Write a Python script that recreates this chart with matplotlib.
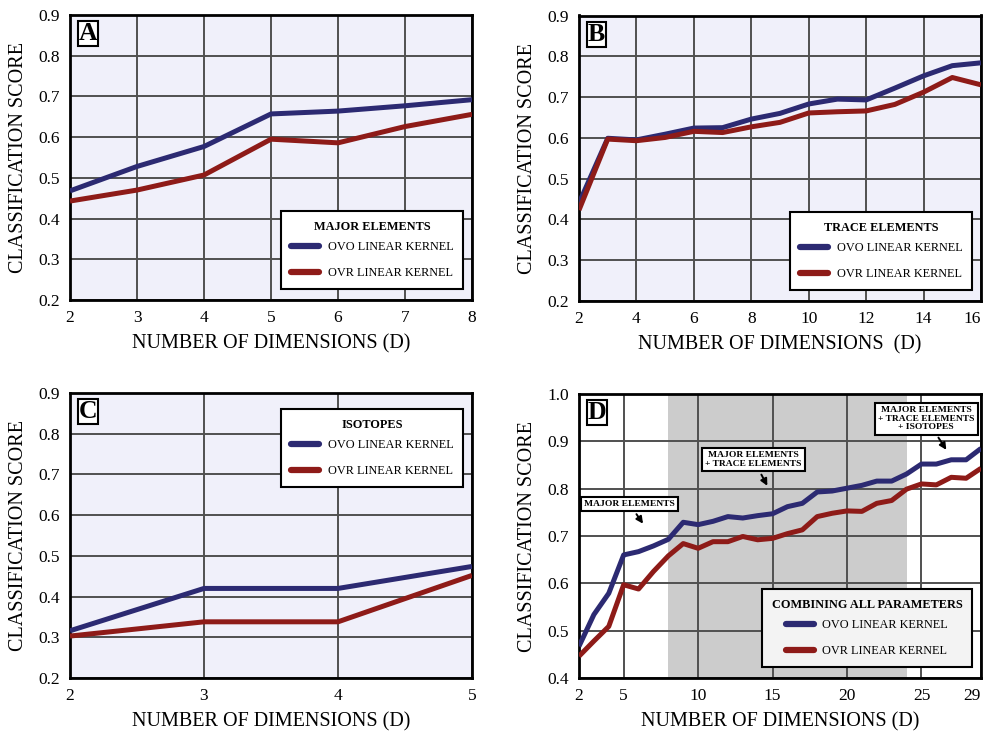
import matplotlib
matplotlib.use("Agg")
import matplotlib.pyplot as plt

plt.rcParams['font.family'] = ['Liberation Serif', 'DejaVu Serif']

# Panel A: major elements
dims_a = [2, 3, 4, 5, 6, 7, 8]
ovo_a = [0.468, 0.528, 0.577, 0.657, 0.664, 0.677, 0.692]
ovr_a = [0.443, 0.470, 0.507, 0.595, 0.586, 0.626, 0.656]

# Panel B: trace elements
dims_b = list(range(2, 17))
ovo_b = [0.440, 0.599, 0.595, 0.609, 0.624, 0.625, 0.646, 0.660, 0.683,
         0.695, 0.693, 0.722, 0.752, 0.777, 0.784]
ovr_b = [0.423, 0.597, 0.593, 0.601, 0.616, 0.613, 0.627, 0.638, 0.661,
         0.664, 0.666, 0.682, 0.712, 0.748, 0.730]

# Panel C: isotopes
dims_c = [2, 3, 4, 5]
ovo_c = [0.316, 0.420, 0.420, 0.474]
ovr_c = [0.303, 0.338, 0.338, 0.452]

# Panel D: all parameters combined
dims_d = list(range(2, 30))
ovo_d = [0.467, 0.534, 0.579, 0.660, 0.667, 0.679, 0.693, 0.729, 0.724,
         0.731, 0.741, 0.738, 0.743, 0.747, 0.762, 0.769, 0.793, 0.795,
         0.801, 0.807, 0.816, 0.816, 0.831, 0.852, 0.852, 0.861, 0.861,
         0.885]
ovr_d = [0.446, 0.478, 0.509, 0.597, 0.588, 0.625, 0.658, 0.684, 0.674,
         0.688, 0.688, 0.699, 0.692, 0.695, 0.705, 0.713, 0.741, 0.748,
         0.753, 0.752, 0.769, 0.775, 0.799, 0.810, 0.808, 0.824, 0.822,
         0.843]

series_labels = ["OVO LINEAR KERNEL", "OVR LINEAR KERNEL"]
legend_titles = ["MAJOR ELEMENTS", "TRACE ELEMENTS", "ISOTOPES",
                 "COMBINING ALL PARAMETERS"]
panel_letters = ["A", "B", "C", "D"]

BLUE = "#2c2a72"
RED = "#8e1b18"
LAVENDER = "#f0f0fa"
GRID = "#505050"

W, H = 983, 731
fig = plt.figure(figsize=(W / 100, H / 100), dpi=100)


def px_axes(l, t, r, b):
    return fig.add_axes([l / W, 1 - b / H, (r - l) / W, (b - t) / H])


axA = px_axes(70, 15, 472, 300)
axB = px_axes(579, 15.5, 981, 301)
axC = px_axes(70, 393, 472, 678)
axD = px_axes(579, 394, 981, 678)


def style(ax, xlim, ylim, xticks, yticks, face, xlabel):
    ax.set_facecolor(face)
    ax.set_xlim(*xlim)
    ax.set_ylim(*ylim)
    ax.set_xticks(xticks)
    ax.set_yticks(yticks)
    ax.set_yticklabels([f"{v:.1f}" for v in yticks])
    ax.grid(True, color=GRID, lw=1.4, zorder=1)
    ax.set_axisbelow(True)
    for s in ax.spines.values():
        s.set_linewidth(2.0)
        s.set_color("black")
    ax.tick_params(length=0, labelsize=12.5, pad=7)
    ax.set_xlabel(xlabel, fontsize=14.5, labelpad=6)
    ax.set_ylabel("CLASSIFICATION SCORE", fontsize=14.5, labelpad=8)


def edge_tick(ax):
    # keep the last x tick label inside the figure
    lab = ax.get_xticklabels()[-1]
    lab.set_ha("right")


def letter(ax, s):
    ax.text(0.022, 0.975, s, transform=ax.transAxes, fontsize=18.5,
            fontweight="bold", ha="left", va="top", zorder=6,
            bbox=dict(boxstyle="square,pad=0.04", fc="white", ec="black",
                      lw=1.5))


def draw(ax, x, a, b):
    ax.plot(x, a, color=BLUE, lw=3.6, solid_capstyle="butt", zorder=3,
            label=series_labels[0])
    ax.plot(x, b, color=RED, lw=3.6, solid_capstyle="butt", zorder=3,
            label=series_labels[1])


def legend(ax, title, loc, anchor, face="white"):
    lg = ax.legend(loc=loc, bbox_to_anchor=anchor, title=title,
                   fontsize=8.8,
                   title_fontproperties=dict(size=8.8, weight="bold"),
                   frameon=True, fancybox=False, borderpad=0.8,
                   labelspacing=1.15, handlelength=2.3, handletextpad=0.7,
                   borderaxespad=0)
    fr = lg.get_frame()
    fr.set_edgecolor("black")
    fr.set_linewidth(1.5)
    fr.set_facecolor(face)
    fr.set_alpha(1)
    lg._legend_box.sep = 6
    for h in lg.get_lines():
        h.set_linewidth(4.5)
        h.set_solid_capstyle("round")
    lg.set_zorder(7)
    return lg


# A
style(axA, (2, 8), (0.2, 0.9), dims_a, [0.2, 0.3, 0.4, 0.5, 0.6, 0.7, 0.8, 0.9],
      LAVENDER, "NUMBER OF DIMENSIONS (D)")
draw(axA, dims_a, ovo_a, ovr_a)
legend(axA, legend_titles[0], "lower right", (0.978, 0.039))
letter(axA, panel_letters[0])

# B
style(axB, (2, 16), (0.2, 0.9), list(range(2, 17, 2)),
      [0.2, 0.3, 0.4, 0.5, 0.6, 0.7, 0.8, 0.9], LAVENDER,
      "NUMBER OF DIMENSIONS  (D)")
draw(axB, dims_b, ovo_b, ovr_b)
legend(axB, legend_titles[1], "lower right", (0.978, 0.039))
letter(axB, panel_letters[1])
edge_tick(axB)

# C
style(axC, (2, 5), (0.2, 0.9), dims_c, [0.2, 0.3, 0.4, 0.5, 0.6, 0.7, 0.8, 0.9],
      LAVENDER, "NUMBER OF DIMENSIONS (D)")
draw(axC, dims_c, ovo_c, ovr_c)
legend(axC, legend_titles[2], "upper right", (0.978, 0.944))
letter(axC, panel_letters[2])

# D
style(axD, (2, 29), (0.4, 1.0), [2, 5, 10, 15, 20, 25, 29],
      [0.4, 0.5, 0.6, 0.7, 0.8, 0.9, 1.0], "white",
      "NUMBER OF DIMENSIONS (D)")
axD.axvspan(8, 24, color="#cccccc", lw=0, zorder=0.5)
draw(axD, dims_d, ovo_d, ovr_d)
legend(axD, legend_titles[3], "lower right", (0.978, 0.039), face="#f3f3f3")
letter(axD, panel_letters[3])
edge_tick(axD)

notes = [
    ("MAJOR ELEMENTS", (5.38, 0.768), (6.3, 0.726)),
    ("MAJOR ELEMENTS\n+ TRACE ELEMENTS", (13.72, 0.861), (14.65, 0.806)),
    ("MAJOR ELEMENTS\n+ TRACE ELEMENTS\n+ ISOTOPES", (25.32, 0.948), (26.67, 0.882)),
]
for text, xy_text, xy_tip in notes:
    axD.annotate(text, xy=xy_tip, xytext=xy_text, ha="center", va="center",
                 fontsize=6.8, fontweight="bold", linespacing=1.1, zorder=6,
                 bbox=dict(boxstyle="square,pad=0.35", fc="white", ec="black",
                           lw=1.5),
                 arrowprops=dict(arrowstyle="-|>", color="black", lw=1.4,
                                 mutation_scale=10, shrinkA=2, shrinkB=0))

fig.savefig("out.png", dpi=100)
